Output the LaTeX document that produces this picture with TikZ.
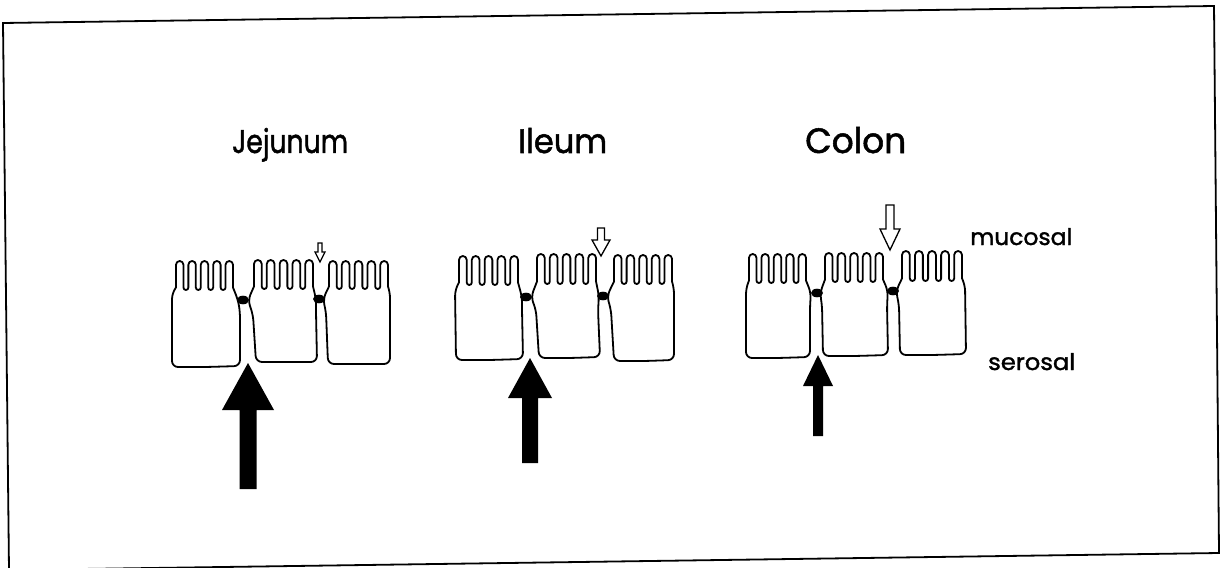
\documentclass[tikz,border=0pt]{standalone}
\usepackage{fontspec}
\setmainfont{Poppins}[FakeBold=1.5]
\usepackage{graphicx}

% one epithelial cell: #1/#2 left and right edge of the brush border,
% #3 tip of the villi, #4 floor between villi,
% #5 path from the base up the left side, #6 path from the border down the right side
\newcommand{\epicell}[6]{%
  \pgfmathsetmacro\vp{(#2-#1)/4.6}%
  \pgfmathsetmacro\vr{0.3*\vp}%
  \pgfmathsetmacro\vq{0.2*\vp}%
  \pgfmathsetmacro\vh{(#4-\vq)-(#3+\vr)}%
  \draw[cellline] #5 [sharp corners] -- (#1,#4-\vq)
    foreach \k in {1,...,4}{ -- ++(0,-\vh) arc[start angle=180,end angle=360,radius=\vr]
                             -- ++(0,\vh) arc[start angle=180,end angle=0,radius=\vq] }
    -- ++(0,-\vh) arc[start angle=180,end angle=360,radius=\vr] -- ++(0,\vh)
    [rounded corners=6pt] #6 -- cycle;
}
% solid upward arrow: centre, tip, head base, tail, head half width, shaft half width
\newcommand{\influx}[6]{%
  \fill[influx] (#1,#2) -- (#1+#5,#3) -- (#1+#6,#3) -- (#1+#6,#4) -- (#1-#6,#4)
    -- (#1-#6,#3) -- (#1-#5,#3) -- cycle;
}
% open downward arrow: centre, tail, head base, tip, head half width, shaft half width
\newcommand{\leakarrow}[6]{%
  \filldraw[leak] (#1-#6,#2) -- (#1+#6,#2) -- (#1+#6,#3) -- (#1+#5,#3) -- (#1,#4)
    -- (#1-#5,#3) -- (#1-#6,#3) -- cycle;
}

\begin{document}
\begin{tikzpicture}[x=1pt,y=-1pt,
  cellline/.style={line width=1.8pt, line join=round},
  junction/.style={fill=black},
  influx/.style={fill=black},
  leak/.style={draw=black, fill=white, line width=1.3pt, line join=miter},
  label/.style={inner sep=0pt, anchor=base west},
  frame/.style={line width=1.8pt, line join=miter}]
\useasboundingbox (0,0) rectangle (1222,567);

% outer frame
\begin{scope}
  \clip (0,0) rectangle (1222,567);
  \draw[frame] (3,23) -- (1214,6) -- (1219,553) -- (9,570) -- cycle;
\end{scope}

% headings
\node[label] (jejunum) at (232,153) {\resizebox{116pt}{25pt}{Jejunum}};
\node[label] (ileum)   at (518,153) {\resizebox{89pt}{25pt}{Ileum}};
\node[label] (colon)   at (805,153) {\resizebox{101pt}{26pt}{Colon}};
\node[label] (mucosal) at (970,245) {\resizebox{102pt}{17pt}{mucosal}};
\node[label] (serosal) at (988,370) {\resizebox{87pt}{17pt}{serosal}};

% ---------- jejunum ----------
\epicell{176}{233}{261}{290}{(206,367) [rounded corners=6pt] -- (172,367) -- (172,293)}
        {-- (238,300) -- (240,312) -- (240,366)}
\epicell{254}{313}{260}{289}{(286,362) [rounded corners=6pt] -- (256,362) -- (253,315) -- (248,300)}
        {-- (316,299) -- (316,312) -- (317,362)}
\epicell{329}{388}{261}{289}{(360,364) [rounded corners=6pt] -- (328,364) -- (326,312) -- (323,299)}
        {-- (390,292) -- (390,364)}
\fill[junction] (243,300) ellipse[x radius=6, y radius=4.3];
\fill[junction] (319,299) ellipse[x radius=6, y radius=4.3];
\influx{248}{363}{410}{489}{26}{8.5}
\leakarrow{320}{243}{252}{262}{5}{2}

% ---------- ileum ----------
\epicell{459}{518}{256}{285}{(490,360) [rounded corners=6pt] -- (456,360) -- (455,290)}
        {-- (522,297) -- (522,310) -- (523,359)}
\epicell{537}{596}{254}{284}{(570,358) [rounded corners=6pt] -- (539,358) -- (536,310) -- (531,297)}
        {-- (599,296) -- (598,310) -- (600,357)}
\epicell{614}{672}{255}{284}{(645,361) [rounded corners=6pt] -- (614,361) -- (611,310) -- (607,296)}
        {-- (674,288) -- (674,360)}
\fill[junction] (526,297) ellipse[x radius=6, y radius=4.3];
\fill[junction] (603,296) ellipse[x radius=6, y radius=4.3];
\influx{530}{358}{398}{463}{22}{8}
\leakarrow{601}{228}{240}{256}{9}{3.5}

% ---------- colon ----------
\epicell{749}{806}{254}{283}{(778,358) [rounded corners=6pt] -- (746,358) -- (746,288)}
        {-- (811,293) -- (810,305) -- (810,357)}
\epicell{825}{883}{253}{282}{(855,356) [rounded corners=6pt] -- (823,356) -- (822,305) -- (820,293)}
        {-- (888,291) -- (887,305) -- (888,355)}
\epicell{902}{962}{251}{281}{(933,355) [rounded corners=6pt] -- (900,355) -- (899,305) -- (896,291)}
        {-- (965,285) -- (966,354)}
\fill[junction] (817,293) ellipse[x radius=6, y radius=4.3];
\fill[junction] (893,291) ellipse[x radius=6, y radius=4.3];
\influx{818}{355}{386}{436}{15}{5}
\leakarrow{890}{205}{229}{250}{10}{4}
\end{tikzpicture}
\end{document}
